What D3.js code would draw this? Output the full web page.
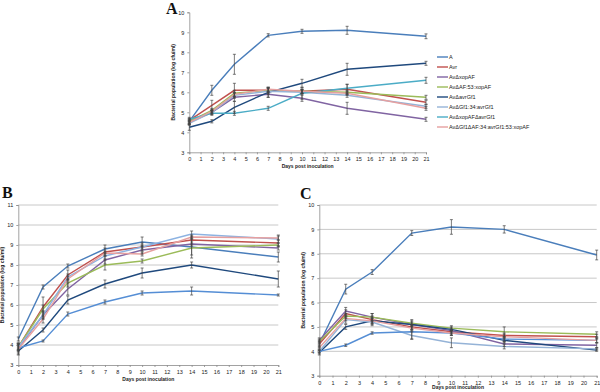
<!DOCTYPE html>
<html>
<head>
<meta charset="utf-8">
<script src="https://cdn.jsdelivr.net/npm/d3@7"></script>
<style>
  body { margin: 0; background: #fff; }
  svg { display: block; }
  .tick text { font-family: "Liberation Sans", Arial, sans-serif; font-size: 5.5px; fill: #222; }
  .axisTitle { font-family: "Liberation Sans", Arial, sans-serif; font-size: 5px; font-weight: bold; fill: #222; }
  .panelLetter { font-family: "Liberation Serif", "DejaVu Serif", serif; font-size: 16px; font-weight: bold; fill: #111; }
  .legendText { font-family: "Liberation Sans", Arial, sans-serif; font-size: 5.5px; fill: #222; }
</style>
</head>
<body>
<div id="chart"></div>
<script>
"use strict";

// sampling days (x values) shared by the three panels
const days = [0, 2, 4, 7, 10, 14, 21];

// legend of panel A
const seriesNames = [
  "A", "Avr", "Av\u0394xopAF", "Av\u0394AF:53:xopAF", "Av\u0394avrGf1",
  "Av\u0394Gf1:34:avrGf1", "Av\u0394xopAF\u0394avrGf1", "Av\u0394Gf1\u0394AF:34:avrGf1:53:xopAF"
];

// Panel A - log cfu/ml
const valuesA = [
  [4.55, 6.10, 7.40, 8.85, 9.05, 9.10, 8.80],
  [4.60, 5.35, 6.10, 6.10, 6.05, 6.15, 5.50],
  [4.50, 5.00, 5.75, 5.90, 5.70, 5.20, 4.65],
  [4.55, 5.10, 5.95, 6.10, 6.05, 6.00, 5.75],
  [4.25, 4.55, 5.25, 6.00, 6.45, 7.15, 7.45],
  [4.45, 5.00, 5.85, 6.05, 6.00, 5.85, 5.30],
  [4.65, 4.95, 4.95, 5.20, 5.95, 6.20, 6.60],
  [4.50, 5.05, 5.90, 6.15, 6.05, 5.95, 5.20]
];
const errA = [
  [0.12, 0.25, 0.50, 0.08, 0.10, 0.20, 0.12],
  [0.10, 0.25, 0.35, 0.15, 0.10, 0.25, 0.10],
  [0.10, 0.10, 0.20, 0.15, 0.15, 0.30, 0.10],
  [0.10, 0.10, 0.15, 0.10, 0.10, 0.10, 0.10],
  [0.15, 0.08, 0.30, 0.25, 0.20, 0.30, 0.10],
  [0.10, 0.10, 0.15, 0.15, 0.10, 0.10, 0.10],
  [0.10, 0.10, 0.10, 0.10, 0.30, 0.20, 0.15],
  [0.10, 0.10, 0.10, 0.10, 0.10, 0.10, 0.10]
];

// Panel B
const valuesB = [
  [4.30, 6.90, 7.95, 8.80, 9.15, 8.90, 8.40],
  [3.90, 5.90, 7.50, 8.65, 8.90, 9.25, 9.10],
  [3.85, 5.50, 6.80, 8.25, 8.75, 9.05, 8.85],
  [3.90, 5.80, 7.10, 8.00, 8.20, 8.85, 9.00],
  [3.70, 4.75, 6.25, 7.05, 7.60, 8.00, 7.30],
  [3.90, 5.50, 7.40, 8.45, 8.90, 9.55, 9.30],
  [3.85, 4.20, 5.55, 6.15, 6.60, 6.70, 6.50],
  [3.80, 5.30, 7.30, 8.60, 8.55, 9.40, 9.35]
];
const errB = [
  [0.10, 0.10, 0.10, 0.20, 0.25, 0.40, 0.25],
  [0.15, 0.50, 0.25, 0.20, 0.20, 0.20, 0.15],
  [0.20, 0.20, 0.30, 0.20, 0.20, 0.10, 0.10],
  [0.15, 0.20, 0.20, 0.25, 0.10, 0.50, 0.10],
  [0.15, 0.10, 0.20, 0.20, 0.25, 0.15, 0.40],
  [0.20, 0.20, 0.15, 0.15, 0.10, 0.15, 0.20],
  [0.10, 0.05, 0.10, 0.10, 0.10, 0.20, 0.05],
  [0.30, 0.20, 0.15, 0.10, 0.10, 0.10, 0.10]
];

// Panel C
const valuesC = [
  [4.30, 6.55, 7.25, 8.85, 9.10, 9.00, 7.95],
  [4.30, 5.55, 5.30, 5.00, 4.80, 4.65, 4.60],
  [4.45, 5.65, 5.40, 5.10, 4.85, 4.30, 4.25],
  [4.40, 5.45, 5.40, 5.15, 4.95, 4.80, 4.70],
  [3.95, 5.00, 5.25, 5.10, 4.90, 4.45, 4.05],
  [4.00, 5.30, 5.20, 4.65, 4.35, 4.20, 4.10],
  [4.00, 4.25, 4.75, 4.80, 4.75, 4.50, 4.45],
  [4.15, 5.35, 5.25, 4.95, 4.75, 4.60, 4.45]
];
const errC = [
  [0.15, 0.20, 0.10, 0.10, 0.30, 0.15, 0.20],
  [0.10, 0.15, 0.15, 0.10, 0.10, 0.10, 0.10],
  [0.10, 0.15, 0.15, 0.10, 0.10, 0.10, 0.10],
  [0.10, 0.10, 0.15, 0.10, 0.10, 0.20, 0.10],
  [0.10, 0.10, 0.10, 0.20, 0.10, 0.10, 0.05],
  [0.10, 0.15, 0.15, 0.15, 0.20, 0.10, 0.05],
  [0.05, 0.05, 0.05, 0.30, 0.10, 0.10, 0.10],
  [0.10, 0.10, 0.15, 0.10, 0.10, 0.10, 0.10]
];

const colorsA = ["#4a7ebb", "#c0504d", "#8064a2", "#9bbb59", "#1f497d", "#95b3d7", "#4bacc6", "#e6a0a0"];
const colorsB = ["#4a7ebb", "#c0504d", "#8064a2", "#9bbb59", "#1f497d", "#8db3e2", "#558ed5", "#e6a0a0"];
const colorsC = ["#4a7ebb", "#c0504d", "#8064a2", "#9bbb59", "#1f497d", "#95b3d7", "#558ed5", "#e6a0a0"];

const W = 600, H = 392;

let svg = d3.select("#chart").append("svg")
  .attr("width", W)
  .attr("height", H);

/*****
Drawing one panel
*****/
function drawPanel(p) {
  let xScale = d3.scaleLinear().domain([0, 21]).range([p.left, p.right]);
  let yScale = d3.scaleLinear().domain(p.yDomain).range([p.bottom, p.top]);
  let yTicks = d3.range(p.yDomain[0], p.yDomain[1] + 1);

  let g = svg.append("g");

  // horizontal gridlines (only B and C)
  if (p.grid) {
    g.append("g").selectAll("line").data(yTicks.slice(1))
      .enter().append("line")
      .attr("x1", p.left).attr("x2", p.right)
      .attr("y1", d => yScale(d)).attr("y2", d => yScale(d))
      .attr("stroke", "#c8c8c8")
      .attr("stroke-width", 1);
  }

  // axes
  let xAxis = d3.axisBottom(xScale).tickValues(d3.range(0, 22)).tickFormat(d3.format("d")).tickSize(2).tickPadding(3);
  let yAxis = d3.axisLeft(yScale).tickValues(yTicks).tickFormat(d3.format("d")).tickSize(2).tickPadding(3);

  g.append("g")
    .attr("transform", `translate(0,${p.bottom})`)
    .call(xAxis);
  g.append("g")
    .attr("transform", `translate(${p.left},0)`)
    .call(yAxis);

  g.selectAll(".domain").attr("stroke", "#8a8a8a").attr("stroke-width", 0.8);
  g.selectAll(".tick line").attr("stroke", "#8a8a8a").attr("stroke-width", 0.8);

  // axis titles
  g.append("text")
    .attr("class", "axisTitle")
    .attr("text-anchor", "middle")
    .attr("x", (p.left + p.right) / 2)
    .attr("y", p.bottom + p.xTitleOffset)
    .text("Days post inoculation");

  g.append("text")
    .attr("class", "axisTitle")
    .attr("text-anchor", "middle")
    .attr("transform", `translate(${p.left - 14},${(p.top + p.bottom) / 2})rotate(-90)`)
    .text("Bacterial population (log cfu/ml)");

  // panel letter
  g.append("text")
    .attr("class", "panelLetter")
    .attr("x", p.letterX)
    .attr("y", p.letterY)
    .text(p.letter);

  let line = d3.line().x((v, i) => xScale(days[i])).y(v => yScale(v));

  // series lines
  g.append("g").selectAll("path").data(p.values)
    .enter().append("path")
    .attr("d", line)
    .attr("fill", "none")
    .attr("stroke", (d, i) => p.colors[i])
    .attr("stroke-width", 1.4);

  // error bars
  p.values.forEach((vals, s) => {
    let eg = g.append("g").attr("stroke", "#444").attr("stroke-width", 0.7);
    vals.forEach((v, i) => {
      let e = p.errors[s][i];
      let x = xScale(days[i]);
      eg.append("line").attr("x1", x).attr("x2", x).attr("y1", yScale(v - e)).attr("y2", yScale(v + e));
      eg.append("line").attr("x1", x - 1.5).attr("x2", x + 1.5).attr("y1", yScale(v - e)).attr("y2", yScale(v - e));
      eg.append("line").attr("x1", x - 1.5).attr("x2", x + 1.5).attr("y1", yScale(v + e)).attr("y2", yScale(v + e));
    });
  });
}

drawPanel({
  letter: "A", letterX: 166, letterY: 14, xTitleOffset: 16,
  left: 189.3, right: 426, top: 12.3, bottom: 152.3, yDomain: [3, 10],
  values: valuesA, errors: errA, colors: colorsA, grid: false
});

drawPanel({
  letter: "B", letterX: 2, letterY: 198, xTitleOffset: 16,
  left: 18.3, right: 278.3, top: 205, bottom: 365, yDomain: [3, 11],
  values: valuesB, errors: errB, colors: colorsB, grid: true
});

drawPanel({
  letter: "C", letterX: 300, letterY: 199, xTitleOffset: 13.5,
  left: 319.3, right: 596.7, top: 205, bottom: 375.7, yDomain: [3, 10],
  values: valuesC, errors: errC, colors: colorsC, grid: true
});

// Legend for panel A
let legend = svg.append("g").selectAll("g").data(seriesNames)
  .enter().append("g")
  .attr("transform", (d, i) => `translate(437,${57 + i * 10})`);

legend.append("line")
  .attr("x1", 0).attr("x2", 11)
  .attr("y1", 0).attr("y2", 0)
  .attr("stroke", (d, i) => colorsA[i])
  .attr("stroke-width", 1.4);

legend.append("text")
  .attr("class", "legendText")
  .attr("x", 12)
  .attr("y", 2)
  .text(d => d);
</script>
</body>
</html>
